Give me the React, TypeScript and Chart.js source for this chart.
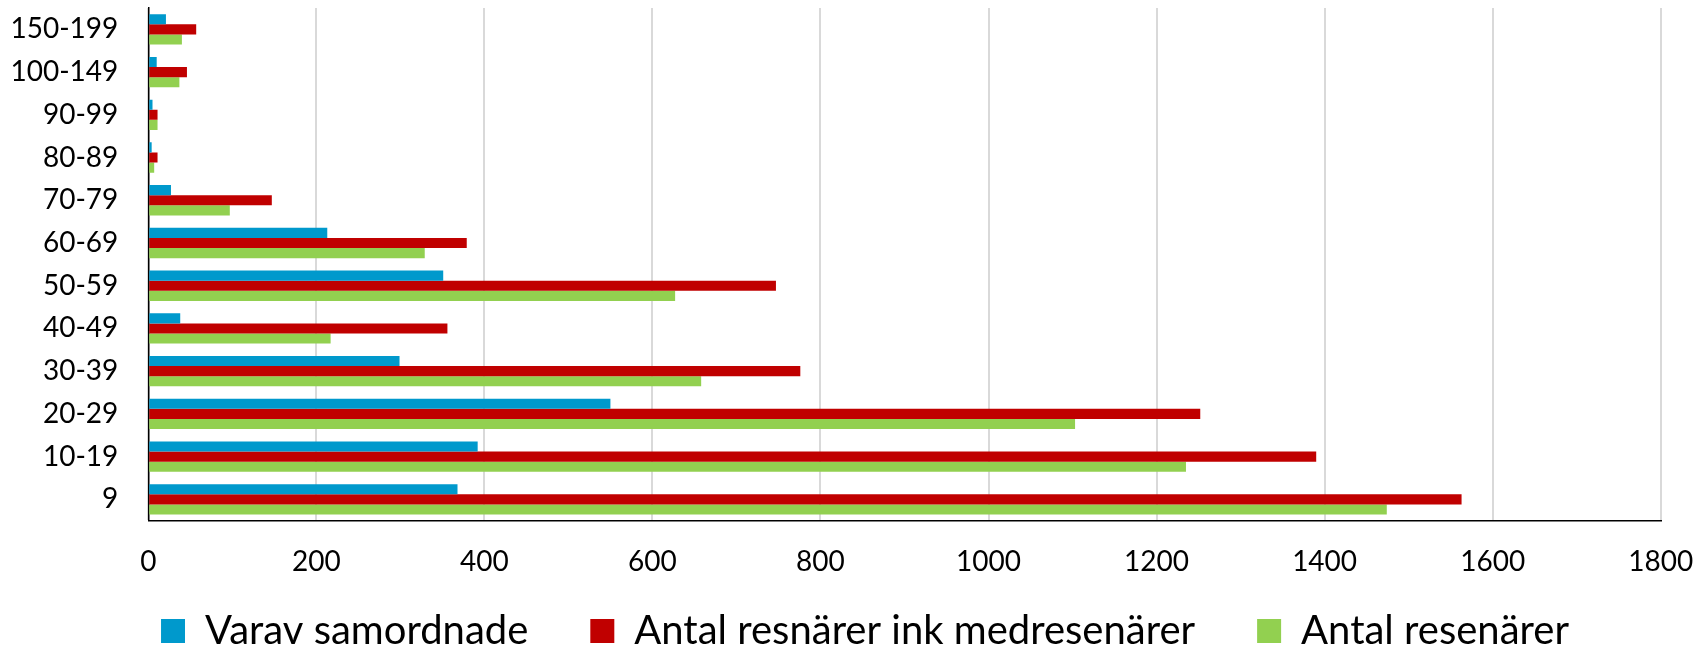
import React, { useEffect, useRef } from "react";
import { Chart, registerables } from "chart.js";

Chart.register(...registerables);

const categories = ["150-199", "100-149", "90-99", "80-89", "70-79", "60-69", "50-59", "40-49", "30-39", "20-29", "10-19", "9"];
const samordnade = [21, 10, 5, 4, 27, 213, 351, 38, 299, 550, 392, 368];
const inkMedresenarer = [57, 46, 11, 11, 147, 379, 747, 356, 776, 1252, 1390, 1563];
const resenarer = [40, 37, 11, 7, 97, 329, 627, 217, 658, 1103, 1235, 1474];
const seriesNames = ["Varav samordnade", "Antal resnärer ink medresenärer", "Antal resenärer"];
const seriesColors = ["#0099CC", "#C00000", "#92D050"];
const xMin = 0;
const xMax = 1800;
const xStep = 200;

export default function App() {
  const canvasRef = useRef<HTMLCanvasElement | null>(null);

  useEffect(() => {
    document.body.style.margin = "0";
    const canvas = canvasRef.current;
    if (!canvas) return;
    const font = "Lato";
    const chart = new Chart(canvas, {
      type: "bar",
      data: {
        labels: categories,
        datasets: [samordnade, inkMedresenarer, resenarer].map((d, i) => ({
          label: seriesNames[i],
          data: d,
          backgroundColor: seriesColors[i],
          borderWidth: 0,
          categoryPercentage: 0.71,
          barPercentage: 1.0,
        })),
      },
      options: {
        indexAxis: "y",
        animation: false,
        responsive: false,
        maintainAspectRatio: false,
        layout: { padding: { left: 36, right: 0, top: 8, bottom: 0 } },
        plugins: {
          tooltip: { enabled: false },
          legend: {
            position: "bottom",
            maxHeight: 98,
            labels: {
              boxWidth: 24,
              boxHeight: 24,
              padding: 62,
              color: "#000",
              font: { family: font, size: 40 },
            },
          },
        },
        scales: {
          x: {
            type: "linear",
            min: xMin,
            max: xMax,
            ticks: {
              stepSize: xStep,
              padding: 24,
              color: "#000",
              font: { family: font, size: 28 },
              maxRotation: 0,
              callback: (value: any) => String(value),
            },
            grid: { color: "#d9d9d9", lineWidth: 2, drawTicks: false },
            border: { display: true, color: "#000", width: 1.5 },
            afterFit: (scale: any) => {
              scale.height = 28.3;
              scale.paddingLeft = 0;
              scale.paddingRight = 33.3;
              scale._computeLabelArea = () => undefined;
            },
          },
          y: {
            type: "category",
            ticks: {
              padding: 30,
              color: "#000",
              font: { family: font, size: 28 },
            },
            grid: { display: false, drawTicks: false },
            border: { display: true, color: "#000", width: 1.5 },
            afterFit: (scale: any) => {
              scale.width = 112.3;
              scale.paddingTop = 0;
              scale.paddingBottom = 0;
              scale._computeLabelArea = () => undefined;
            },
          },
        },
      },
    });
    return () => chart.destroy();
  }, []);

  return (
    <div style={{ width: 1694, height: 647, background: "#fff" }}>
      <canvas ref={canvasRef} width={1694} height={647} style={{ display: "block" }} />
    </div>
  );
}
